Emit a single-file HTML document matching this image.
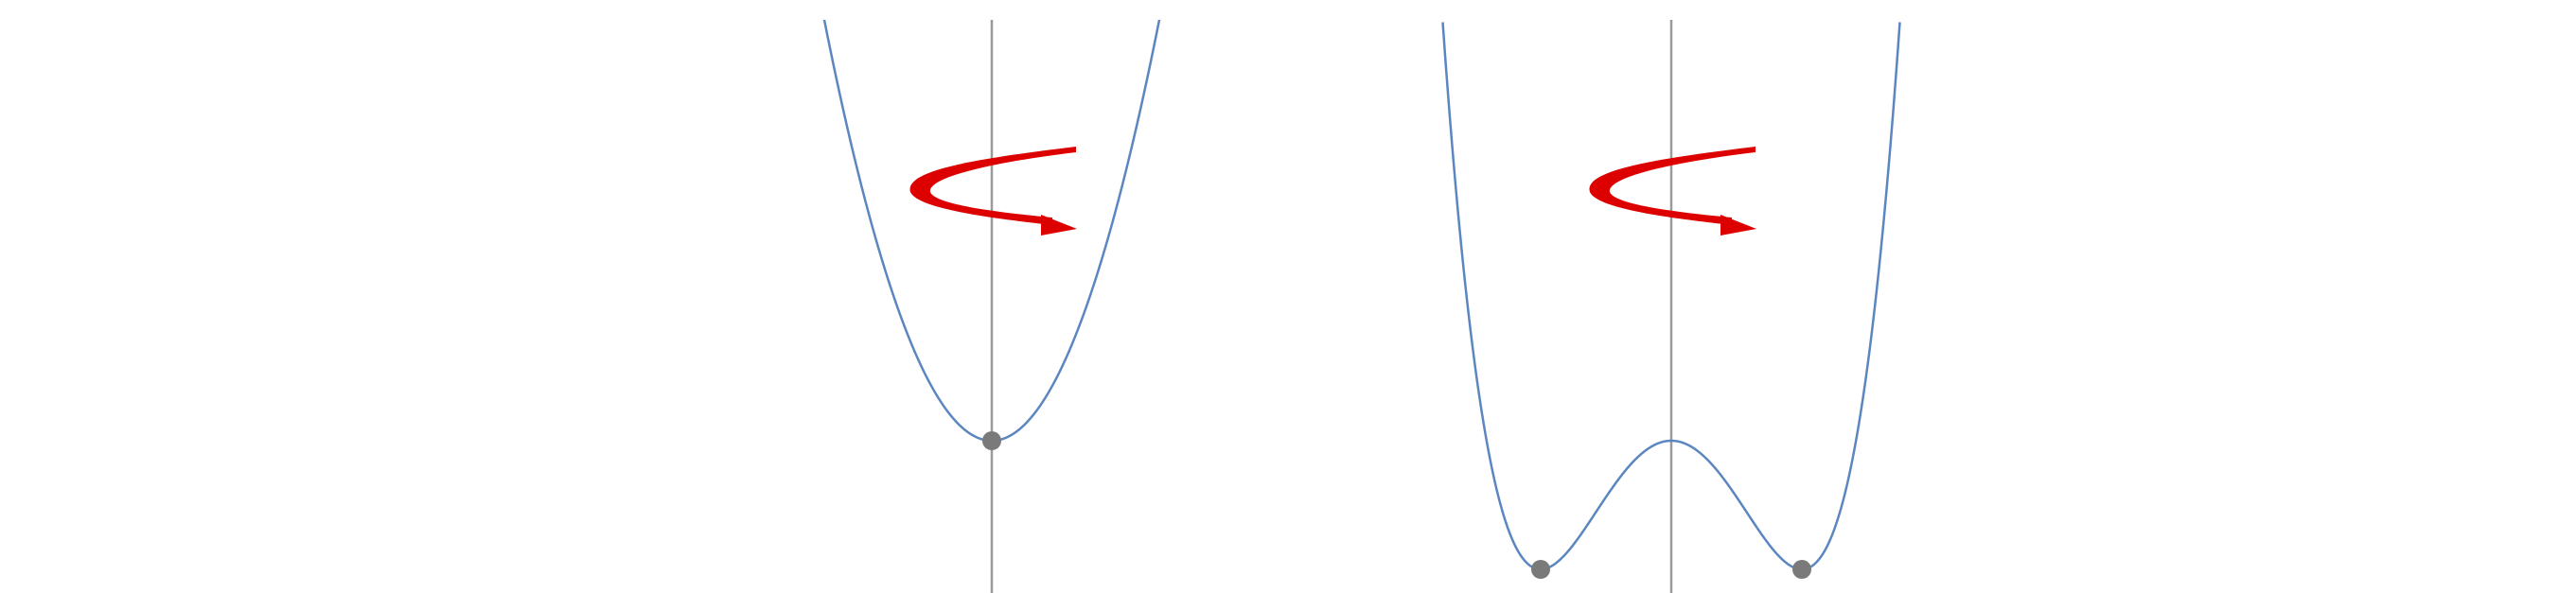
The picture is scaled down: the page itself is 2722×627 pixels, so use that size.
<!DOCTYPE html>
<html><head><meta charset="utf-8"><style>html,body{margin:0;padding:0;background:#fff;overflow:hidden}svg{display:block}</style></head>
<body>
<svg id="chart" width="2722" height="627" viewBox="0 0 2722 627" xmlns="http://www.w3.org/2000/svg">
<g id="plots"></g>
</svg>
<script>
// panel parameters
const panelCenters = [1048, 1766];
const panelTypes = ["single-well", "double-well"];
const singleWell = { vertexY: 466, halfWidth: 177, topY: 21 };
const doubleWell = { minOffset: 138, minY: 602, maxY: 466 };
const svgNS = "http://www.w3.org/2000/svg";
const g = document.getElementById('plots');
function mk(tag, attrs){const e=document.createElementNS(svgNS,tag);for(const k in attrs)e.setAttribute(k,attrs[k]);g.appendChild(e);return e;}
function curvePts(type, cx){
  const pts=[];
  for(let dx=-300; dx<=300; dx+=0.5){
    let y;
    if(type==="single-well"){
      const u=dx/singleWell.halfWidth;
      y=singleWell.vertexY-(singleWell.vertexY-singleWell.topY)*u*u;
    } else {
      const u=dx/doubleWell.minOffset;
      const d=doubleWell.minY-doubleWell.maxY;
      y=doubleWell.minY-d*(u*u-1)*(u*u-1);
    }
    if(y<21) continue;
    pts.push((cx+dx).toFixed(1)+','+y.toFixed(1));
  }
  return pts;
}
panelCenters.forEach((cx,i)=>{
  const ax=mk('line',{x1:cx,y1:21,x2:cx,y2:627,stroke:'#9a9a9a','stroke-width':2.5});
  
  
  const pl=mk('polyline',{points:curvePts(panelTypes[i],cx).join(' '),fill:'none',stroke:'#5b86c0','stroke-width':2.5});
  
  
  const minima = panelTypes[i]==="single-well" ? [[cx,singleWell.vertexY]] : [[cx-doubleWell.minOffset,doubleWell.minY],[cx+doubleWell.minOffset,doubleWell.minY]];
  minima.forEach(p=>{
    const c=mk('circle',{cx:p[0],cy:p[1],r:10,fill:'#7a7a7a'});
    
    
  });
  const o=cx-1048;
  const ar=mk('path',{transform:`translate(${o},0)`,fill:'#dd0000',d:'M1137,155 C1030,168 955,180 962,203 C970,222 1060,232 1112,238 L1112,230 C1060,225 988,217 983,203 C980,188 1045,172 1137,161 Z'});
  
  
  const ah=mk('path',{transform:`translate(${o},0)`,fill:'#dd0000',d:'M1100,227 L1138,242 L1100,249 Z'});
  
  
});
</script>
</body></html>
